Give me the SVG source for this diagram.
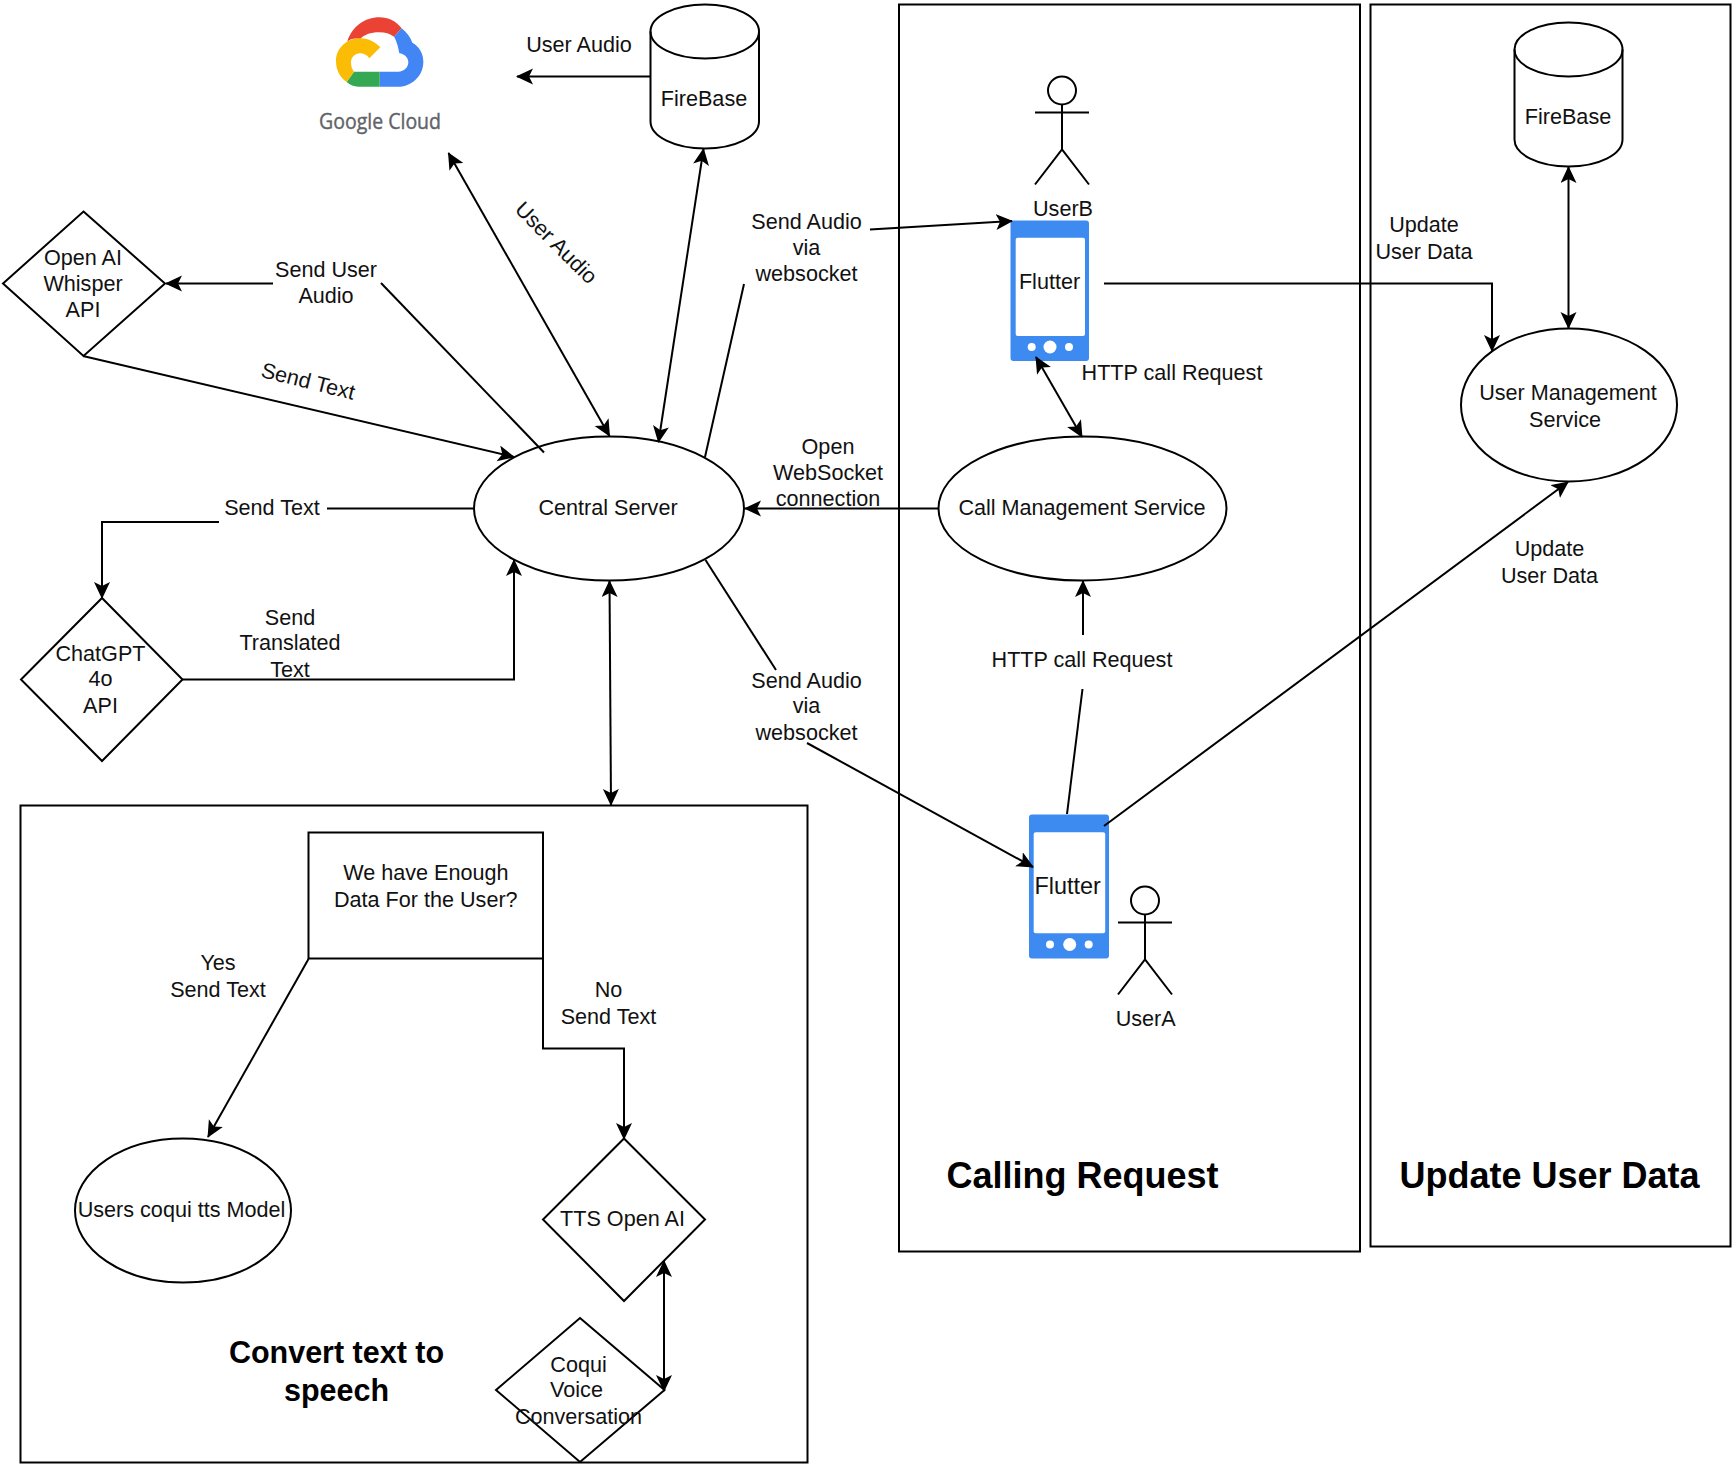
<svg xmlns="http://www.w3.org/2000/svg" width="1734" height="1466" viewBox="0 0 1734 1466">
<style>
text{font-family:"Liberation Sans",Arial,sans-serif;font-size:21.6px;fill:#111;text-anchor:middle}
.t{font-weight:bold;font-size:36px;fill:#000}
.s{font-weight:bold;font-size:30.5px;fill:#000}
.n{fill:#fff;stroke:#000;stroke-width:2}
.o{fill:none;stroke:#000;stroke-width:2}
.c{fill:none;stroke:#000;stroke-width:2;marker-end:url(#a)}
.d{fill:none;stroke:#000;stroke-width:2;marker-end:url(#a);marker-start:url(#a)}
.p{fill:#3d8bf0}
.w{fill:#fff}
</style>
<defs>
<marker id="a" markerUnits="userSpaceOnUse" markerWidth="18" markerHeight="18" refX="16" refY="8" orient="auto-start-reverse"><path d="M0,0 L17,8 L0,16 L4,8 Z" fill="#000"/></marker>
</defs>
<rect width="1734" height="1466" fill="#fff"/>
<g id="box-calling"><rect class="o" x="899" y="4.5" width="461" height="1247"/><text class="t" x="1082.5" y="1188">Calling Request</text></g>
<g id="box-update"><rect class="o" x="1370.5" y="4.5" width="360" height="1242"/><text class="t" x="1549.5" y="1188">Update User Data</text></g>
<g id="box-convert"><rect class="o" x="20.5" y="805.5" width="787" height="657"/><text class="s" x="336.5" y="1363">Convert text to</text><text class="s" x="336.5" y="1401">speech</text></g>
<g id="google-cloud">
<g transform="translate(280,0) scale(.33333)">
<path fill="#EA4335" d="M202,125 C215,80 255,52 298,52 C325,52 348,63 365,85 L342,110 C330,101 315,97 298,97 C272,97 250,105 240,118 C225,113 212,117 202,125 Z"/>
<path fill="#4285F4" d="M365,85 C380,98 392,112 397,128 C418,140 430,160 430,185 C430,228 395,260 355,260 L299,260 L299,215 L355,215 C372,215 385,202 385,187 C385,172 372,162 358,160 C354,135 348,120 342,110 Z"/>
<path fill="#34A853" d="M299,215 L299,260 L235,260 C222,260 210,255 200,246 L222,215 Z"/>
<path fill="#FBBC05" d="M200,246 C180,232 168,210 168,183 C168,145 200,115 240,115 C262,115 285,125 301,142 L268,175 C262,165 250,160 240,160 C225,160 213,172 213,187 C213,200 217,210 222,215 Z"/>
</g>
<text x="380" y="129" style="fill:#5f6368;stroke:#5f6368;stroke-width:.4;font-family:'Open Sans',sans-serif;font-size:21px" textLength="122" lengthAdjust="spacingAndGlyphs">Google Cloud</text>
</g>
<g id="firebase-1"><path class="n" d="M650.5,31.5 C650.5,16.5 675,4.5 705,4.5 C735,4.5 759,16.5 759,31.5 L759,121.5 C759,136.5 735,148.5 705,148.5 C675,148.5 650.5,136.5 650.5,121.5 Z"/><path class="o" d="M650.5,31.5 C650.5,46.5 675,58.5 705,58.5 C735,58.5 759,46.5 759,31.5"/><text x="704" y="106">FireBase</text></g>
<g id="firebase-2"><path class="n" d="M1514.5,49.5 C1514.5,34.5 1538.5,22.5 1568.5,22.5 C1598.5,22.5 1622.5,34.5 1622.5,49.5 L1622.5,139.5 C1622.5,154.5 1598.5,166.5 1568.5,166.5 C1538.5,166.5 1514.5,154.5 1514.5,139.5 Z"/><path class="o" d="M1514.5,49.5 C1514.5,64.5 1538.5,76.5 1568.5,76.5 C1598.5,76.5 1622.5,64.5 1622.5,49.5"/><text x="1568" y="124">FireBase</text></g>
<g id="central"><ellipse class="n" cx="609" cy="508.5" rx="135" ry="72"/><text x="608" y="515">Central Server</text></g>
<g id="call-mgmt"><ellipse class="n" cx="1082.5" cy="508.5" rx="144" ry="72"/><text x="1082" y="515">Call Management Service</text></g>
<g id="user-mgmt"><ellipse class="n" cx="1569" cy="405" rx="108" ry="76.5"/><text x="1568" y="400">User Management</text><text x="1565" y="427">Service</text></g>
<g id="coqui-model"><ellipse class="n" cx="183" cy="1210.5" rx="108" ry="72"/><text x="181.5" y="1217">Users coqui tts Model</text></g>
<g id="whisper"><path class="n" d="M83.5,211.5 L165,283.5 L83.5,356 L3,283.5 Z"/><text x="83" y="265">Open AI</text><text x="83" y="290.5">Whisper</text><text x="83" y="316.5">API</text></g>
<g id="chatgpt"><path class="n" d="M102,598 L182.5,679.5 L102,761 L21,679.5 Z"/><text x="100.5" y="661">ChatGPT</text><text x="100.5" y="686">4o</text><text x="100.5" y="713">API</text></g>
<g id="tts"><path class="n" d="M624,1138.5 L705,1219.5 L624,1301 L543,1219.5 Z"/><text x="622.5" y="1225.5">TTS Open AI</text></g>
<g id="coqui-voice"><path class="n" d="M580,1318 L664.5,1390 L580,1462 L496,1390 Z"/><text x="578.5" y="1372">Coqui</text><text x="576.5" y="1397">Voice</text><text x="578.5" y="1424">Conversation</text></g>
<g id="decision"><rect class="n" x="308.5" y="832.5" width="234.5" height="126"/><text x="425.8" y="879.5">We have Enough</text><text x="425.8" y="906.5">Data For the User?</text></g>
<g id="phone-b"><rect class="p" x="1010.5" y="220.5" width="78.5" height="140.5" rx="3"/><rect class="w" x="1015.7" y="237.7" width="69.3" height="98.3" rx="2"/><circle class="w" cx="1031.7" cy="347" r="4"/><circle class="w" cx="1050" cy="347" r="6.5"/><circle class="w" cx="1069" cy="347" r="4"/><text x="1049.5" y="289">Flutter</text></g>
<g id="phone-a"><rect class="p" x="1029" y="814.5" width="80" height="144" rx="3"/><rect class="w" x="1033.7" y="832.3" width="71.5" height="101" rx="2"/><circle class="w" cx="1050" cy="944.5" r="4"/><circle class="w" cx="1069.7" cy="944.5" r="6.5"/><circle class="w" cx="1088.7" cy="944.5" r="4"/><text x="1067.7" y="894" style="font-size:23.4px">Flutter</text></g>
<g id="user-b"><circle class="o" cx="1062" cy="90.5" r="14"/><path class="o" d="M1062,104.5 V149.5 M1035,112.5 H1089 M1035,184.5 L1062,149.5 L1089,184.5"/><text x="1063" y="216">UserB</text></g>
<g id="user-a"><circle class="o" cx="1145" cy="900.5" r="14"/><path class="o" d="M1145,914.5 V959.5 M1118,922.5 H1172 M1118,994.5 L1145,959.5 L1172,994.5"/><text x="1145.7" y="1026">UserA</text></g>
<g id="connectors">
<path class="c" d="M650.5,76.5 H517"/>
<path class="d" d="M609.5,436 L448.5,153"/>
<path class="d" d="M658.5,442 L703.5,149"/>
<path class="o" d="M705,457 L744,284"/>
<path class="c" d="M870,229.5 L1012,221"/>
<path class="o" d="M544,452.5 L381,283"/>
<path class="c" d="M273,283.5 H166"/>
<path class="c" d="M83,356 L514,457"/>
<path class="o" d="M474,508.5 H327"/>
<path class="c" d="M219,522 H102 V598"/>
<path class="c" d="M182.5,679.5 H514 V560"/>
<path class="c" d="M939,508.5 H745"/>
<path class="d" d="M609.5,581 L611,805"/>
<path class="o" d="M705.5,560 L776,670"/>
<path class="c" d="M807,743 L1033,867"/>
<path class="d" d="M1036,357 L1082,437"/>
<path class="o" d="M1067,814 L1082.5,689"/>
<path class="c" d="M1083,635 V581"/>
<path class="c" d="M1104,826 L1568,482"/>
<path class="c" d="M1104,283.5 H1492 V351"/>
<path class="d" d="M1568.5,167 V328"/>
<path class="c" d="M308.5,959 L208,1137"/>
<path class="c" d="M543,959 V1048.5 H624 V1139"/>
<path class="d" d="M664,1261 L664,1391"/>
</g>
<g id="labels">
<text x="579" y="52">User Audio</text>
<text x="556" y="250" transform="rotate(45 556 243)">User Audio</text>
<text x="806.5" y="229">Send Audio</text><text x="806.5" y="254.5">via</text><text x="806.5" y="281">websocket</text>
<text x="1424" y="232">Update</text><text x="1424" y="258.5">User Data</text>
<text x="326" y="277">Send User</text><text x="326" y="303">Audio</text>
<text x="308" y="388.5" transform="rotate(14 308 381.5)">Send Text</text>
<text x="1172" y="380">HTTP call Request</text>
<text x="828" y="454">Open</text><text x="828" y="480">WebSocket</text><text x="828" y="506">connection</text>
<text x="272" y="515">Send Text</text>
<text x="290" y="625">Send</text><text x="290" y="650">Translated</text><text x="290" y="676.5">Text</text>
<text x="806.5" y="687.5">Send Audio</text><text x="806.5" y="713">via</text><text x="806.5" y="739.5">websocket</text>
<text x="1082" y="667">HTTP call Request</text>
<text x="1549.5" y="556">Update</text><text x="1549.5" y="582.5">User Data</text>
<text x="218" y="969.5">Yes</text><text x="218" y="997">Send Text</text>
<text x="608.5" y="997">No</text><text x="608.5" y="1024">Send Text</text>
</g>
</svg>
